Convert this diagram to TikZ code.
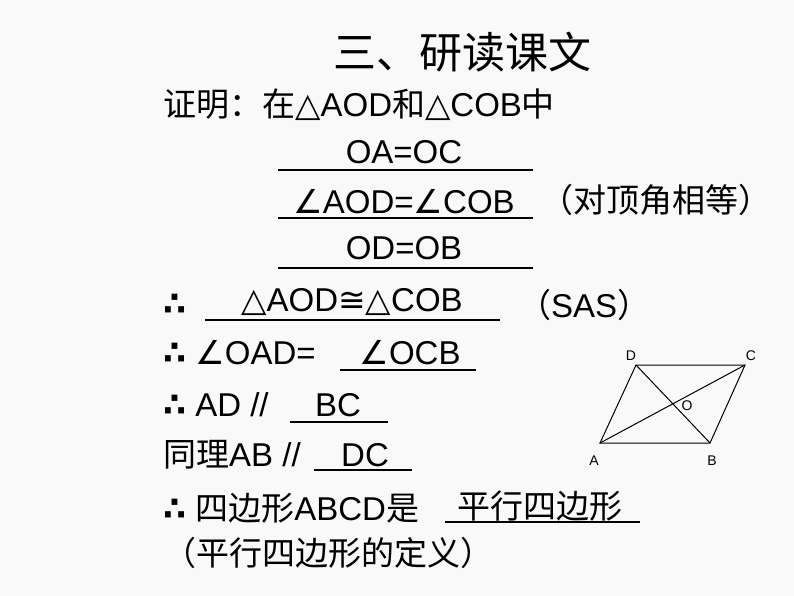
\documentclass[tikz,border=0pt]{standalone}
\usepackage{fontspec}
\setmainfont{Liberation Sans}
\newfontfamily\cjk{Noto Sans CJK SC}
\newfontfamily\sym{DejaVu Sans}
\newcommand{\myang}{{\sym ∠}}
\newcommand{\mytri}{{\sym △}}
\newcommand{\myso}{{\sym\bfseries ∴}}
\newcommand{\mycong}{{\sym ≅}}
\begin{document}
\begin{tikzpicture}[x=1pt,y=-1pt,
  txt/.style={anchor=west,inner sep=0pt,font=\fontsize{33}{35}\selectfont},
  ans/.style={anchor=center,inner sep=0pt,font=\fontsize{33}{35}\selectfont},
  ul/.style={line width=1.2pt},
  geo/.style={line width=1pt},
  lab/.style={inner sep=0pt,font=\fontsize{14}{15}\selectfont}]
\fill[white!95!gray] (0,0) rectangle (794,596);
\useasboundingbox (0,0) rectangle (794,596);
\node[font=\fontsize{43}{45}\selectfont\cjk] (title) at (462,52) {三、研读课文};
\node[txt] (l1) at (163,105) {{\cjk 证明：在}\mytri AOD{\cjk 和}\mytri COB{\cjk 中}};
\node[ans] (a1) at (404,152) {OA=OC};
\draw[ul] (278,170) -- (533,170);
\node[ans] (a2) at (404,202) {\myang AOD=\myang COB};
\draw[ul] (278,218) -- (533,218);
\node[txt] (r2) at (540,200) {\cjk （对顶角相等）};
\node[ans] (a3) at (404,248) {OD=OB};
\draw[ul] (278,268) -- (533,268);
\node[txt] (l4) at (163,305) {\myso};
\node[ans] (a4) at (352,302) {\mytri AOD\mycong\mytri COB};
\draw[ul] (205,320) -- (500,320);
\node[txt] (r4) at (518,305) {{\cjk （}SAS{\cjk ）}};
\node[txt] (l5) at (163,353) {\myso{} \myang OAD=};
\node[ans] (a5) at (410,353) {\myang OCB};
\draw[ul] (340,370) -- (476,370);
\node[txt] (l6) at (163,405) {\myso{} AD // };
\node[ans] (a6) at (338,405) {BC};
\draw[ul] (290,422) -- (388,422);
\node[txt] (l7) at (163,455) {{\cjk 同理}AB // };
\node[ans] (a7) at (365,455) {DC};
\draw[ul] (314,470) -- (412,470);
\node[txt] (l8) at (163,508) {\myso{} {\cjk 四边形}ABCD{\cjk 是}};
\node[ans] (a8) at (540,506) {\cjk 平行四边形};
\draw[ul] (445,522) -- (640,522);
\node[txt] (l9) at (163,553) {\cjk （平行四边形的定义）};
\coordinate (A) at (600,443);
\coordinate (B) at (710,443);
\coordinate (C) at (745,365);
\coordinate (D) at (636,365);
\draw[geo] (A) -- (B) -- (C) -- (D) -- cycle;
\draw[geo] (A) -- (C) (B) -- (D);
\node[lab] (la) at (594,461) {A};
\node[lab] (lb) at (712,461) {B};
\node[lab] (lc) at (751,356) {C};
\node[lab] (ld) at (631,356) {D};
\node[lab] (lo) at (687,406) {O};
\end{tikzpicture}
\end{document}
